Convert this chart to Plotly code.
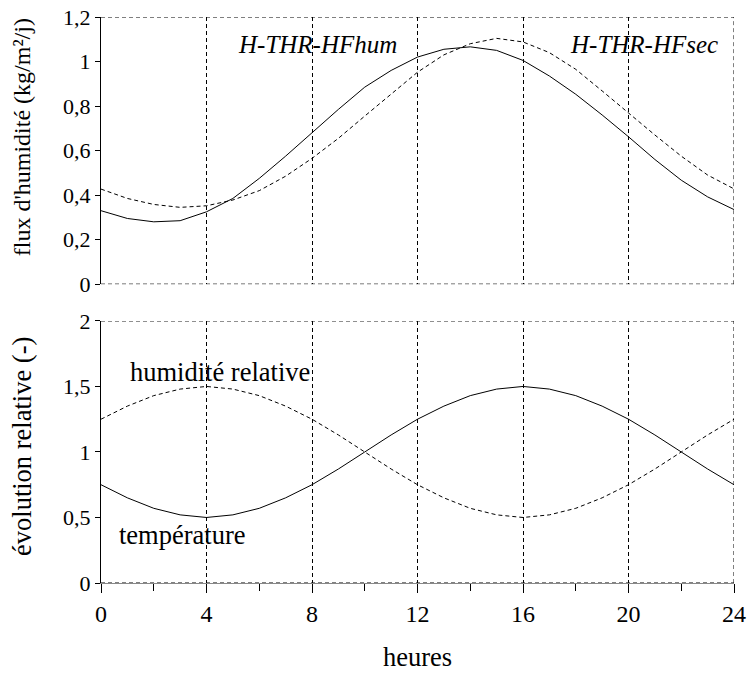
import plotly.graph_objects as go
from plotly.subplots import make_subplots

heures = list(range(25))

# flux d'humidité (kg/m²/j)
flux_hfhum = [0.33, 0.295, 0.28, 0.285, 0.325, 0.385, 0.475, 0.575, 0.68, 0.785,
              0.885, 0.96, 1.02, 1.055, 1.066, 1.05, 1.005, 0.935, 0.853, 0.76,
              0.662, 0.56, 0.467, 0.392, 0.335]
flux_hfsec = [0.427, 0.385, 0.358, 0.345, 0.352, 0.378, 0.42, 0.485, 0.565, 0.655,
              0.755, 0.855, 0.952, 1.03, 1.08, 1.104, 1.088, 1.04, 0.965, 0.868,
              0.768, 0.67, 0.575, 0.49, 0.428]

# évolution relative (-)
temperature = [0.75, 0.65, 0.57, 0.52, 0.5, 0.52, 0.57, 0.65, 0.75, 0.87,
               1.0, 1.13, 1.25, 1.35, 1.43, 1.48, 1.5, 1.48, 1.43, 1.35,
               1.25, 1.13, 1.0, 0.87, 0.75]
humidite = [1.25, 1.35, 1.43, 1.48, 1.5, 1.48, 1.43, 1.35, 1.25, 1.13,
            1.0, 0.87, 0.75, 0.65, 0.57, 0.52, 0.5, 0.52, 0.57, 0.65,
            0.75, 0.87, 1.0, 1.13, 1.25]

FONT = "Times New Roman, Liberation Serif, DejaVu Serif, serif"
DASH = "4px,3px"

fig = make_subplots(rows=2, cols=1, vertical_spacing=0.065)

fig.add_trace(go.Scatter(x=heures, y=flux_hfhum, mode="lines",
                         line=dict(color="black", width=1)), row=1, col=1)
fig.add_trace(go.Scatter(x=heures, y=flux_hfsec, mode="lines",
                         line=dict(color="black", width=1, dash=DASH)), row=1, col=1)
fig.add_trace(go.Scatter(x=heures, y=temperature, mode="lines",
                         line=dict(color="black", width=1)), row=2, col=1)
fig.add_trace(go.Scatter(x=heures, y=humidite, mode="lines",
                         line=dict(color="black", width=1, dash=DASH)), row=2, col=1)

grid = dict(showgrid=True, gridcolor="black", gridwidth=1, griddash=DASH,
            zeroline=False, range=[0, 24], tickvals=list(range(0, 25, 4)),
            automargin=False, ticklabeloverflow="allow")

fig.update_xaxes(**grid, showticklabels=False, ticks="", showline=False, row=1, col=1)
fig.update_xaxes(**grid, ticks="outside", ticklen=9, tickcolor="black",
                 showline=True, linecolor="#888", linewidth=1,
                 minor=dict(dtick=2, ticks="outside", ticklen=7, tickcolor="black", showgrid=False),
                 tickfont=dict(size=24), row=2, col=1)

yax = dict(showgrid=False, zeroline=False, showline=True, linecolor="black", linewidth=1,
           ticks="outside", ticklen=5, tickcolor="black", tickfont=dict(size=22),
           automargin=False, ticklabeloverflow="allow")
fig.update_yaxes(**yax, range=[0, 1.2], dtick=0.2, row=1, col=1)
fig.update_yaxes(**yax, range=[0, 2], dtick=0.5, row=2, col=1)

# cadre en tirets
dline = dict(color="black", width=1, dash=DASH)
for xr, yr in (("x", "y"), ("x2", "y2")):
    top = 1.2 if yr == "y" else 2
    fig.add_shape(type="line", xref=f"{xr} domain", yref=yr, x0=0, x1=1, y0=top, y1=top, line=dline)
    fig.add_shape(type="line", xref=f"{xr} domain", yref=yr, x0=0, x1=1, y0=0, y1=0, line=dline)
    fig.add_shape(type="line", xref=xr, yref=f"{yr} domain", x0=24, x1=24, y0=0, y1=1, line=dline)

ann = dict(showarrow=False, xanchor="center", yanchor="middle",
           font=dict(size=25, family=FONT, color="black"))
fig.add_annotation(x=8.2, y=1.075, xref="x", yref="y", text="<i>H-THR-HFhum</i>", **ann)
fig.add_annotation(x=20.6, y=1.075, xref="x", yref="y", text="<i>H-THR-HFsec</i>", **ann)
ann["font"] = dict(size=26.5, family=FONT, color="black")
fig.add_annotation(x=4.5, y=1.61, xref="x2", yref="y2", text="humidité relative", **ann)
fig.add_annotation(x=3.1, y=0.37, xref="x2", yref="y2", text="température", **ann)

# titres des axes
fig.add_annotation(x=0.5, y=0, xref="x2 domain", yref="y2 domain", yshift=-74,
                   text="heures", **ann)
fig.add_annotation(x=0, y=0.55, xref="x domain", yref="y domain", xshift=-79, textangle=-90,
                   text="flux d'humidité (kg/m²/j)", showarrow=False,
                   xanchor="center", yanchor="middle",
                   font=dict(size=24, family=FONT, color="black"))
fig.add_annotation(x=0, y=0.519, xref="x2 domain", yref="y2 domain", xshift=-79, textangle=-90,
                   text="évolution relative (-)", **ann)

fig.update_layout(
    width=748, height=673,
    margin=dict(l=101, r=14, t=17, b=90, autoexpand=False),
    template="plotly_white",
    plot_bgcolor="white", paper_bgcolor="white",
    font=dict(family=FONT, color="black", size=22),
    separators=", ",
    showlegend=False,
)
fig.layout.yaxis.domain = [0.528, 1.0]
fig.layout.yaxis2.domain = [0.0, 0.463]

fig.write_html("out.html", config={"displayModeBar": False},
               post_script="document.body.style.margin='0';")
